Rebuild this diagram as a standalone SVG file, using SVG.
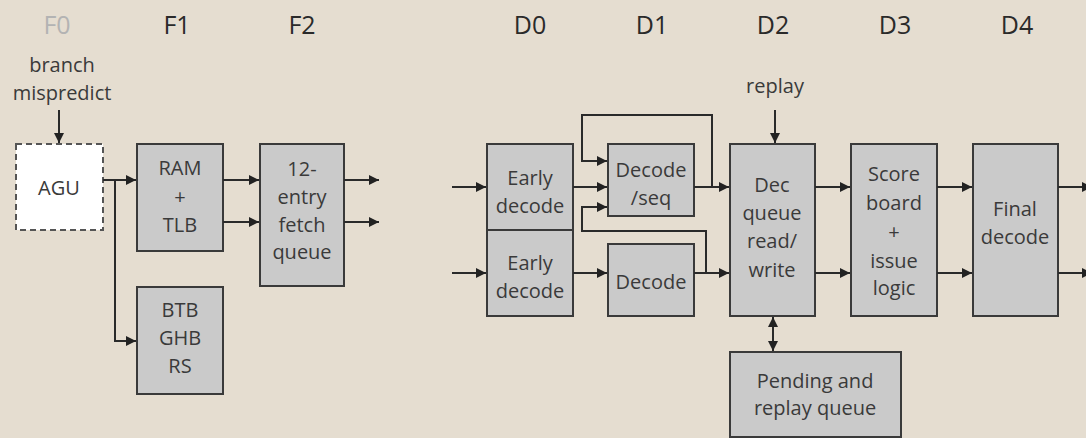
<svg xmlns="http://www.w3.org/2000/svg" width="1086" height="438" viewBox="0 0 1086 438">
<defs>
<marker id="ah" viewBox="0 0 10 10" refX="10" refY="5" markerWidth="11" markerHeight="10" markerUnits="userSpaceOnUse" orient="auto-start-reverse">
<path d="M0,0 L10,5 L0,10 z" fill="#222"/>
</marker>
<style>
.box{fill:#cacaca;stroke:#3a3a3a;stroke-width:2}
.agu{fill:#ffffff;stroke:#555;stroke-width:2;stroke-dasharray:6,4}
.t{font-family:"Open Sans","Noto Sans",sans-serif;font-size:20px;fill:#3a3a3a;text-anchor:middle}
.lab{font-family:"Open Sans","Noto Sans",sans-serif;font-size:25px;fill:#2a2a2a;text-anchor:middle}
.c{fill:none;stroke:#2a2a2a;stroke-width:2}
.a{marker-end:url(#ah)}
</style>
</defs>
<rect width="1086" height="438" fill="#e5ddd0"/>
<g id="labels">
<text class="lab" x="57" y="34" style="fill:#b3b3b3">F0</text>
<text class="lab" x="177" y="34">F1</text>
<text class="lab" x="302" y="34">F2</text>
<text class="lab" x="530" y="34">D0</text>
<text class="lab" x="652" y="34">D1</text>
<text class="lab" x="773" y="34">D2</text>
<text class="lab" x="895" y="34">D3</text>
<text class="lab" x="1017" y="34">D4</text>
<text class="t" x="62" y="72">branch</text>
<text class="t" x="62" y="100">mispredict</text>
<text class="t" x="775" y="93">replay</text>
</g>
<g id="agu">
<rect class="agu" x="16" y="144" width="87" height="86"/>
<text class="t" x="59" y="195">AGU</text>
</g>
<g id="ramtlb">
<rect class="box" x="137" y="144" width="86" height="107"/>
<text class="t" x="180" y="175">RAM</text>
<text class="t" x="180" y="204">+</text>
<text class="t" x="180" y="232">TLB</text>
</g>
<g id="btb">
<rect class="box" x="137" y="287" width="86" height="107"/>
<text class="t" x="180" y="317">BTB</text>
<text class="t" x="180" y="345">GHB</text>
<text class="t" x="180" y="373">RS</text>
</g>
<g id="fetchq">
<rect class="box" x="260" y="144" width="84" height="142"/>
<text class="t" x="302" y="176">12-</text>
<text class="t" x="302" y="204">entry</text>
<text class="t" x="302" y="232">fetch</text>
<text class="t" x="302" y="259">queue</text>
</g>
<g id="early1">
<rect class="box" x="487" y="144" width="86" height="86"/>
<text class="t" x="530" y="185">Early</text>
<text class="t" x="530" y="213">decode</text>
</g>
<g id="early2">
<rect class="box" x="487" y="230" width="86" height="86"/>
<text class="t" x="530" y="270">Early</text>
<text class="t" x="530" y="298">decode</text>
</g>
<g id="decseq">
<rect class="box" x="608" y="144" width="86" height="72"/>
<text class="t" x="651" y="177">Decode</text>
<text class="t" x="651" y="205">/seq</text>
</g>
<g id="decode">
<rect class="box" x="608" y="244" width="86" height="72"/>
<text class="t" x="651" y="289">Decode</text>
</g>
<g id="decq">
<rect class="box" x="730" y="144" width="85" height="172"/>
<text class="t" x="772" y="192">Dec</text>
<text class="t" x="772" y="220">queue</text>
<text class="t" x="772" y="248">read/</text>
<text class="t" x="772" y="277">write</text>
</g>
<g id="score">
<rect class="box" x="851" y="144" width="86" height="172"/>
<text class="t" x="894" y="181">Score</text>
<text class="t" x="894" y="210">board</text>
<text class="t" x="894" y="239">+</text>
<text class="t" x="894" y="268">issue</text>
<text class="t" x="894" y="295">logic</text>
</g>
<g id="final">
<rect class="box" x="973" y="144" width="85" height="172"/>
<text class="t" x="1015" y="216">Final</text>
<text class="t" x="1015" y="244">decode</text>
</g>
<g id="pending">
<rect class="box" x="730" y="352" width="171" height="85"/>
<text class="t" x="815" y="388">Pending and</text>
<text class="t" x="815" y="415">replay queue</text>
</g>
<g id="connectors">
<path class="c a" d="M59,110 V143"/>
<path class="c a" d="M103,180 H136"/>
<path class="c a" d="M115,180 V341 H136"/>
<path class="c a" d="M223,180 H259"/>
<path class="c a" d="M223,222 H259"/>
<path class="c a" d="M344,180 H379"/>
<path class="c a" d="M344,222 H379"/>
<path class="c a" d="M452,187 H486"/>
<path class="c a" d="M452,273 H486"/>
<path class="c a" d="M573,187 H607"/>
<path class="c a" d="M573,273 H607"/>
<path class="c a" d="M694,187 H729"/>
<path class="c a" d="M694,273 H729"/>
<path class="c a" d="M712,187 V115 H582 V161 H607"/>
<path class="c a" d="M706,273 V231 H582 V207 H607"/>
<path class="c a" d="M775,110 V143"/>
<path class="c a" d="M815,187 H850"/>
<path class="c a" d="M815,273 H850"/>
<path class="c a" d="M937,187 H972"/>
<path class="c a" d="M937,273 H972"/>
<path class="c a" d="M1058,187 H1092"/>
<path class="c a" d="M1058,273 H1092"/>
<path class="c a" d="M773,317 V351" style="marker-start:url(#ah)"/>
</g>
</svg>
